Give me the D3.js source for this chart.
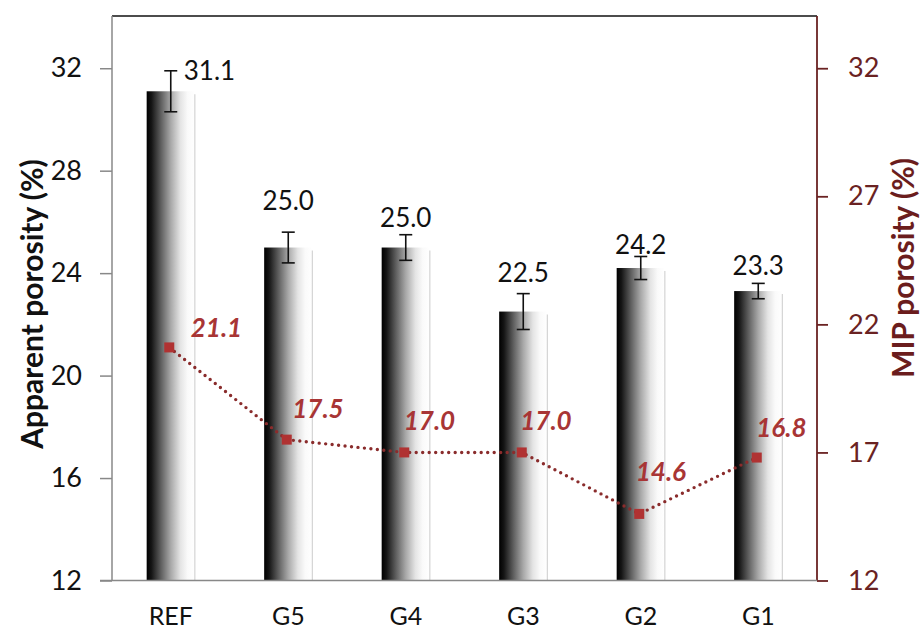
<!DOCTYPE html>
<html>
<head>
<meta charset="utf-8">
<script src="https://cdn.jsdelivr.net/npm/d3@7"></script>
<style>
  html, body { margin: 0; padding: 0; background: #fff; }
  svg { display: block; font-family: "Lato", "Carlito", "Open Sans", sans-serif; }
</style>
</head>
<body>
<svg id="chart" width="922" height="632"></svg>
<script>
// ---- data ----
const categories = ["REF", "G5", "G4", "G3", "G2", "G1"];
const apparentPorosity = [31.1, 25.0, 25.0, 22.5, 24.2, 23.3];
const apparentError = [0.8, 0.6, 0.5, 0.7, 0.45, 0.3];
const mipPorosity = [21.1, 17.5, 17.0, 17.0, 14.6, 16.8];
const leftTicks = [12, 16, 20, 24, 28, 32];
const rightTicks = [12, 17, 22, 27, 32];

// ---- layout (label nudges, not data) ----
const barLabelDx = [13, 0, 0, 0, 0, 0];
const barLabelDy = [-21, -48, -31, -40, -24, -26];
const mipLabelDx = [20, 4, -2, -3, -5, -2];
const mipLabelDy = [-20, -32, -32, -32, -43, -31];

const svg = d3.select("#chart");
const pLeft = 112, pRight = 817, pTop = 17, pBottom = 580.5;

const x = d3.scaleBand().domain(categories).range([pLeft, pRight])
  .paddingInner(0.59).paddingOuter(0.295);
const yL = d3.scaleLinear().domain([12, 34]).range([pBottom, pTop]);
const yR = d3.scaleLinear().domain([12, 34]).range([pBottom, pTop]);

const maroon = "#6a2222";
const red = "#a83535";

// gradient
const defs = svg.append("defs");
const grad = defs.append("linearGradient").attr("id", "barGrad")
  .attr("x1", "0%").attr("x2", "100%").attr("y1", "0%").attr("y2", "0%");
[[0, "#000"], [0.1, "#151515"], [0.3, "#606060"], [0.5, "#a8a8a8"], [0.7, "#e4e4e4"], [0.85, "#fafafa"], [1, "#fff"]]
  .forEach(([o, c]) => grad.append("stop").attr("offset", o).attr("stop-color", c));

// frame top
svg.append("line").attr("x1", pLeft).attr("x2", pRight).attr("y1", pTop - 1).attr("y2", pTop - 1)
  .attr("stroke", "#111").attr("stroke-width", 1.5);

// bars
const data = categories.map((c, i) => ({ c, v: apparentPorosity[i], e: apparentError[i], m: mipPorosity[i], i }));
svg.append("g").selectAll("rect").data(data).join("rect")
  .attr("x", d => x(d.c)).attr("width", x.bandwidth())
  .attr("y", d => yL(d.v)).attr("height", d => yL(12) - yL(d.v))
  .attr("fill", "url(#barGrad)");
svg.append("g").selectAll("line").data(data).join("line")
  .attr("x1", d => x(d.c) + x.bandwidth()).attr("x2", d => x(d.c) + x.bandwidth())
  .attr("y1", d => yL(d.v) + 3).attr("y2", yL(12))
  .attr("stroke", "#d4d4d4").attr("stroke-width", 1.2);

// error bars
const eg = svg.append("g").attr("stroke", "#111").attr("stroke-width", 1.6);
data.forEach(d => {
  const cx = x(d.c) + x.bandwidth() / 2;
  eg.append("line").attr("x1", cx).attr("x2", cx).attr("y1", yL(d.v + d.e)).attr("y2", yL(d.v - d.e));
  eg.append("line").attr("x1", cx - 6.5).attr("x2", cx + 6.5).attr("y1", yL(d.v + d.e)).attr("y2", yL(d.v + d.e));
  eg.append("line").attr("x1", cx - 6.5).attr("x2", cx + 6.5).attr("y1", yL(d.v - d.e)).attr("y2", yL(d.v - d.e));
});

// bar labels
svg.append("g").selectAll("text").data(data).join("text")
  .attr("x", d => x(d.c) + x.bandwidth() / 2 + barLabelDx[d.i])
  .attr("y", d => yL(d.v) + barLabelDy[d.i])
  .attr("text-anchor", d => barLabelDx[d.i] ? "start" : "middle")
  .attr("dominant-baseline", "central")
  .attr("font-size", 26).attr("fill", "#111")
  .text(d => d.v.toFixed(1));

// MIP line
const line = d3.line().x(d => x(d.c) + x.bandwidth() / 2 - 1.5).y(d => yR(d.m));
svg.append("path").datum(data).attr("d", line)
  .attr("fill", "none").attr("stroke", "#8a2c2c").attr("stroke-width", 3.4)
  .attr("stroke-linecap", "round").attr("stroke-dasharray", "0 6.5");
svg.append("g").selectAll("rect").data(data).join("rect")
  .attr("x", d => x(d.c) + x.bandwidth() / 2 - 1.5 - 5).attr("y", d => yR(d.m) - 5)
  .attr("width", 10).attr("height", 10).attr("fill", "#b03232");
svg.append("g").selectAll("text").data(data).join("text")
  .attr("x", d => x(d.c) + x.bandwidth() / 2 + mipLabelDx[d.i])
  .attr("y", d => yR(d.m) + mipLabelDy[d.i])
  .attr("dominant-baseline", "central")
  .attr("font-size", 26).attr("font-weight", "bold").attr("font-style", "italic")
  .attr("fill", red)
  .text(d => d.m.toFixed(1));

// left axis
const gL = svg.append("g").attr("transform", `translate(${pLeft},0)`)
  .call(d3.axisLeft(yL).tickValues(leftTicks).tickSize(12).tickPadding(18).tickSizeOuter(0));
gL.attr("font-family", null);
gL.select(".domain").attr("stroke", "#888").attr("stroke-width", 1.5).attr("d", `M0,${pTop - 1}V${pBottom}`);
gL.selectAll(".tick line").attr("stroke", "#888").attr("stroke-width", 1.5);
gL.selectAll(".tick text").attr("font-size", 27).attr("fill", "#111");

// right axis
const gR = svg.append("g").attr("transform", `translate(${pRight},0)`)
  .call(d3.axisRight(yR).tickValues(rightTicks).tickSize(11).tickPadding(20).tickSizeOuter(0));
gR.attr("font-family", null);
gR.select(".domain").attr("stroke", maroon).attr("stroke-width", 1.8).attr("d", `M0,${pTop - 1}V${pBottom}`);
gR.selectAll(".tick line").attr("stroke", maroon).attr("stroke-width", 1.8);
gR.selectAll(".tick text").attr("font-size", 27).attr("fill", maroon);

// bottom axis
const gB = svg.append("g").attr("transform", `translate(0,${pBottom})`)
  .call(d3.axisBottom(x).tickSize(0).tickPadding(27).tickSizeOuter(0));
gB.attr("font-family", null);
gB.select(".domain").attr("stroke", "#888").attr("stroke-width", 1.5).attr("d", `M${pLeft - 12},0H${pRight}`);
gB.selectAll(".tick text").attr("font-size", 25).attr("fill", "#111");

// axis titles
svg.append("text").attr("transform", "translate(31,304) rotate(-90)")
  .attr("text-anchor", "middle").attr("dominant-baseline", "central")
  .attr("font-size", 30).attr("font-weight", "bold").attr("fill", "#111")
  .text("Apparent porosity (%)");
svg.append("text").attr("transform", "translate(902,268) rotate(-90)")
  .attr("text-anchor", "middle").attr("dominant-baseline", "central")
  .attr("font-size", 30).attr("font-weight", "bold").attr("fill", "#6b1d1d")
  .text("MIP porosity (%)");
</script>
</body>
</html>
